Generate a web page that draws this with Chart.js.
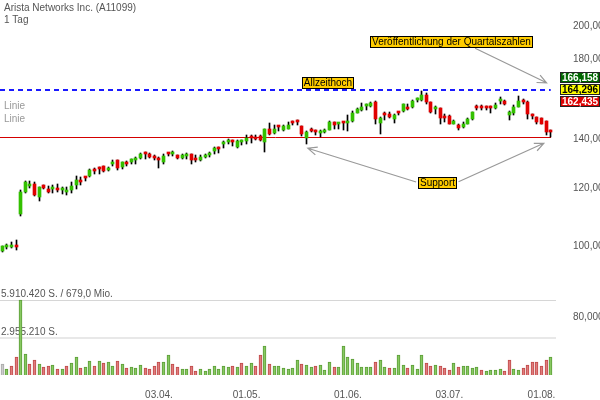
<!DOCTYPE html>
<html>
<head>
<meta charset="utf-8">
<script src="https://cdn.jsdelivr.net/npm/chart.js@4.4.1/dist/chart.umd.min.js"></script>
<style>
  html, body { margin: 0; padding: 0; background: #fff; }
  #wrap { width: 600px; height: 400px; }
</style>
</head>
<body>
<div id="wrap"><canvas id="chart"></canvas></div>
<script>
// Arista Networks Inc. (A11099) - 1 Tag, Kerzen + Volumen

const FONT = 'Arial, "Liberation Sans", sans-serif';

// OHLC, one entry per trading day (EUR)
const opens = [
  98.70, 99.73, 99.86, 100.58, 110.81, 118.80, 120.94, 121.70, 116.96, 121.32,
  119.81, 119.81, 120.19, 119.54, 118.80, 119.43, 121.32, 122.84, 124.27, 124.78,
  127.13, 128.06, 128.74, 127.13, 129.67, 131.16, 128.22, 129.95, 130.48, 131.29,
  132.12, 133.79, 133.79, 132.83, 131.58, 130.48, 133.79, 133.54, 133.12, 132.12,
  132.96, 133.66, 131.58, 131.16, 132.54, 133.25, 134.91, 136.31, 137.90, 138.89,
  139.19, 136.74, 139.06, 139.32, 141.39, 141.08, 141.39, 138.89, 144.51, 143.03,
  145.69, 144.37, 144.83, 147.70, 147.98, 145.87, 140.82, 144.83, 143.39, 143.07,
  143.30, 144.37, 147.85, 146.97, 147.70, 147.57, 148.31, 152.26, 153.34, 155.66,
  155.41, 157.72, 147.24, 151.42, 151.70, 149.43, 152.17, 152.86, 154.95, 154.95,
  158.40, 158.55, 161.23, 157.38, 154.17, 154.46, 149.85, 150.67, 147.11, 146.33,
  145.56, 147.11, 149.10, 154.74, 154.65, 154.79, 154.89, 154.65, 158.11, 158.21,
  150.99, 152.26, 154.95, 158.55, 157.38, 150.76, 150.18, 149.90, 148.31, 143.48
];
const highs = [
  100.27, 100.89, 101.30, 102.15, 119.43, 122.84, 122.84, 122.58, 120.68, 121.32,
  120.94, 121.32, 121.70, 120.68, 120.68, 122.46, 124.78, 124.51, 124.51, 127.53,
  127.81, 128.47, 128.74, 128.47, 131.16, 131.16, 130.35, 130.76, 131.58, 132.54,
  134.20, 134.62, 134.20, 133.12, 132.54, 133.54, 134.20, 135.04, 133.37, 133.66,
  133.96, 133.66, 133.12, 133.20, 133.54, 134.62, 136.74, 136.74, 139.32, 140.06,
  139.62, 139.62, 139.62, 141.83, 141.83, 141.83, 141.83, 144.51, 147.39, 146.33,
  146.00, 146.60, 147.70, 148.16, 148.63, 145.87, 143.74, 145.28, 144.05, 144.05,
  144.51, 148.16, 147.85, 147.57, 147.85, 150.99, 152.86, 154.50, 156.90, 156.62,
  157.24, 158.21, 150.18, 152.55, 152.40, 151.70, 152.55, 156.62, 156.62, 158.45,
  159.55, 162.88, 161.88, 157.38, 155.30, 154.46, 151.70, 150.99, 148.63, 147.11,
  147.70, 149.57, 152.55, 155.80, 155.80, 155.30, 155.30, 156.77, 159.90, 158.55,
  152.86, 155.80, 160.40, 158.85, 158.21, 151.70, 150.18, 149.90, 148.31, 144.37
];
const lows = [
  98.17, 99.23, 99.54, 99.01, 109.88, 118.22, 120.30, 117.22, 115.50, 119.70,
  118.44, 118.44, 118.80, 118.07, 117.59, 118.44, 119.81, 121.32, 122.84, 124.51,
  125.61, 125.61, 126.23, 126.74, 128.74, 127.13, 127.53, 128.82, 129.55, 129.55,
  131.58, 131.58, 132.00, 131.29, 128.06, 129.67, 132.96, 132.83, 131.58, 131.45,
  131.45, 129.55, 130.35, 130.76, 131.87, 132.54, 133.54, 133.96, 136.31, 138.03,
  137.17, 136.31, 137.77, 138.20, 138.46, 139.62, 139.50, 134.62, 142.00, 142.27,
  143.60, 143.74, 144.50, 146.33, 146.33, 141.52, 138.20, 143.30, 141.83, 141.08,
  142.85, 144.05, 144.51, 144.83, 144.05, 143.60, 147.85, 152.00, 153.20, 153.34,
  155.20, 146.79, 142.58, 148.63, 149.57, 147.39, 150.99, 152.55, 153.34, 154.60,
  157.38, 158.21, 156.62, 152.07, 151.70, 147.11, 147.85, 146.79, 146.79, 144.05,
  145.10, 146.79, 148.63, 153.34, 153.34, 153.67, 152.07, 154.17, 156.62, 155.80,
  148.63, 150.99, 154.80, 156.62, 149.10, 149.43, 146.79, 146.79, 141.83, 141.08
];
const closes = [
  100.05, 100.58, 100.42, 99.95, 118.80, 122.58, 121.70, 117.59, 120.68, 120.30,
  118.80, 120.68, 119.43, 119.81, 119.06, 120.94, 123.22, 122.58, 124.00, 127.13,
  126.86, 127.53, 126.74, 128.06, 129.95, 128.06, 130.35, 129.67, 131.45, 132.12,
  133.79, 133.54, 132.54, 132.12, 131.29, 132.83, 133.54, 134.37, 132.12, 133.12,
  133.37, 131.16, 131.29, 132.54, 132.96, 133.96, 136.31, 135.76, 138.89, 139.11,
  138.98, 139.40, 139.19, 140.64, 140.51, 140.06, 139.93, 144.51, 142.27, 144.83,
  145.51, 146.00, 146.65, 147.47, 147.80, 142.58, 143.30, 143.61, 143.21, 143.30,
  144.37, 147.85, 146.33, 147.16, 147.57, 148.31, 152.26, 154.17, 154.95, 155.80,
  156.90, 149.10, 149.57, 151.23, 150.18, 151.32, 151.98, 156.29, 154.17, 158.21,
  158.60, 161.23, 157.38, 152.55, 154.95, 149.90, 149.66, 147.11, 148.16, 145.10,
  147.11, 149.10, 152.55, 154.60, 154.46, 154.65, 154.74, 155.80, 158.31, 156.62,
  152.55, 154.95, 158.21, 157.38, 151.70, 150.57, 147.85, 147.11, 143.30, 143.39
];

// volume in thousand shares
const volumes = [
  843, 496, 709, 1442, 5910.42, 1655, 867, 1158, 890, 630,
  686, 788, 473, 496, 733, 922, 1418, 552, 607, 1127,
  733, 1103, 922, 1024, 709, 1103, 867, 552, 607, 528,
  788, 528, 449, 733, 1048, 1001, 1552, 890, 607, 449,
  473, 733, 339, 473, 339, 473, 686, 473, 686, 630,
  686, 630, 922, 686, 922, 686, 1552, 2262, 890, 686,
  686, 552, 473, 575, 1182, 890, 788, 630, 709, 812,
  394, 1001, 630, 654, 2262, 1395, 1284, 922, 607, 607,
  607, 1024, 1182, 607, 552, 552, 1552, 812, 575, 788,
  496, 1552, 922, 733, 764, 733, 552, 370, 922, 630,
  709, 686, 552, 630, 394, 315, 394, 418, 449, 339,
  1182, 496, 394, 528, 764, 1001, 1001, 686, 1182, 1418
];
// u = up, d = down, n = unchanged (colour of the volume bars)
const volDir = (
  'nudduuddud' + 'dududuuduu' + 'duduududuu' + 'udddduuddu' + 'udduuuuuuu' +
  'duduuddudu' + 'uuuuuduudu' + 'uuduuuuuuu' + 'uduuduuudu' + 'uuddudddud' +
  'uuuuduuuud' + 'duuddddddu'
).split('');

const days = opens.map((_, i) => i);
const xTickIdx = [34, 53, 75, 97, 117];
const xTickText = ['03.04.', '01.05.', '01.06.', '03.07.', '01.08.'];
const yTicks = [80, 100, 120, 140, 180, 200];

const volMax = 5910.42;
const volTopLabel = '5.910.420 S. / 679,0 Mio.';
const volMidLabel = '2.955.210 S.';

const athValue = 164.296;
const supportValue = 141.0;
const priceTags = [
  { text: '166,158', bg: '#006600', fg: '#ffffff', slot: -1 },
  { text: '164,296', bg: '#ffff00', fg: '#000000', slot: 0 },
  { text: '162,435', bg: '#dd0000', fg: '#ffffff', slot: 1 }
];

const UP = '#33c000', DOWN = '#e00000';

function fmtPrice(v) {
  return v.toFixed(3).replace('.', ',');
}

function arrow(ctx, x1, y1, x2, y2) {
  const a = Math.atan2(y2 - y1, x2 - x1);
  const len = 10, spread = 0.42;
  ctx.beginPath();
  ctx.moveTo(x1, y1);
  ctx.lineTo(x2, y2);
  ctx.moveTo(x2 - len * Math.cos(a - spread), y2 - len * Math.sin(a - spread));
  ctx.lineTo(x2, y2);
  ctx.lineTo(x2 - len * Math.cos(a + spread), y2 - len * Math.sin(a + spread));
  ctx.stroke();
}

function labelBox(ctx, text, cx, cy) {
  const w = Math.round(ctx.measureText(text).width + 4);
  const h = 12;
  const left = Math.round(cx - w / 2), top = Math.round(cy - h / 2);
  ctx.fillStyle = '#ffcc00';
  ctx.fillRect(left, top, w, h);
  ctx.strokeStyle = '#000';
  ctx.lineWidth = 1;
  ctx.strokeRect(left + 0.5, top + 0.5, w - 1, h - 1);
  ctx.fillStyle = '#000';
  ctx.textAlign = 'center';
  ctx.textBaseline = 'middle';
  ctx.fillText(text, left + w / 2, top + h / 2 + 0.5);
}

// snap the candle and volume bars to whole pixels so they stay crisp
const pixelSnap = {
  id: 'pixelSnap',
  afterDatasetsUpdate(chart) {
    chart.getSortedVisibleDatasetMetas().forEach(meta => {
      meta.data.forEach(el => {
        el.x = Math.floor(el.x) + 0.5;
        const yy = Math.round(el.y), bb = Math.round(el.base);
        el.y = yy === bb ? bb - 1 : yy;
        el.base = bb;
      });
    });
  }
};

const overlay = {
  id: 'overlay',
  beforeDatasetsDraw(chart) {
    const { ctx, chartArea: a, scales: { x, y, yv } } = chart;
    ctx.save();
    ctx.font = '10px ' + FONT;

    // volume reference lines
    const vTop = Math.round(yv.getPixelForValue(volMax)) + 0.5;
    const vMid = Math.round(yv.getPixelForValue(volMax / 2));
    ctx.strokeStyle = '#d6d6d6';
    ctx.lineWidth = 1;
    ctx.beginPath(); ctx.moveTo(a.left, vTop); ctx.lineTo(a.right + 3, vTop); ctx.stroke();
    ctx.strokeStyle = '#e8e8e8';
    ctx.lineWidth = 2;
    ctx.beginPath(); ctx.moveTo(a.left, vMid); ctx.lineTo(a.right + 3, vMid); ctx.stroke();
    ctx.fillStyle = '#555';
    ctx.textAlign = 'left';
    ctx.textBaseline = 'bottom';
    ctx.fillText(volTopLabel, 1, vTop - 1);
    ctx.fillText(volMidLabel, 1, vMid - 1);

    // support line
    const ySup = Math.round(y.getPixelForValue(supportValue)) + 0.5;
    ctx.strokeStyle = '#d40000';
    ctx.lineWidth = 1;
    ctx.beginPath(); ctx.moveTo(a.left, ySup); ctx.lineTo(a.right - 2, ySup); ctx.stroke();

    // all-time-high line
    const yAth = Math.round(y.getPixelForValue(athValue)) + 1;
    ctx.strokeStyle = '#1a1aff';
    ctx.lineWidth = 2;
    ctx.setLineDash([5, 4]);
    ctx.beginPath(); ctx.moveTo(a.left, yAth); ctx.lineTo(x.getPixelForValue(days.length - 1), yAth); ctx.stroke();
    ctx.restore();
  },
  afterDraw(chart) {
    const { ctx, chartArea: a, scales: { x, y } } = chart;
    ctx.save();
    ctx.font = '10px ' + FONT;
    ctx.textAlign = 'left';
    ctx.textBaseline = 'middle';

    ctx.fillStyle = '#555';
    ctx.fillText('Arista Networks Inc. (A11099)', 4, 8);
    ctx.fillText('1 Tag', 4, 20);
    ctx.fillStyle = '#999';
    ctx.fillText('Linie', 4, 106);
    ctx.fillText('Linie', 4, 119);

    // arrows
    ctx.strokeStyle = '#999';
    ctx.lineWidth = 1.2;
    arrow(ctx, x.getPixelForValue(102.6), y.getPixelForValue(186.45), x.getPixelForValue(118.1), y.getPixelForValue(167.3));
    arrow(ctx, x.getPixelForValue(89.8), y.getPixelForValue(122.46), x.getPixelForValue(66.3), y.getPixelForValue(136.16));
    arrow(ctx, x.getPixelForValue(99.0), y.getPixelForValue(122.58), x.getPixelForValue(117.5), y.getPixelForValue(138.3));

    // annotation boxes
    const yAth = Math.round(y.getPixelForValue(athValue)) + 1;
    labelBox(ctx, 'Allzeithoch', x.getPixelForValue(70.6), yAth - 7);
    labelBox(ctx, 'Veröffentlichung der Quartalszahlen', x.getPixelForValue(97.5), y.getPixelForValue(189.9));
    labelBox(ctx, 'Support', x.getPixelForValue(94.4), y.getPixelForValue(121.97));

    // price tags at the right axis
    ctx.font = 'bold 10px ' + FONT;
    priceTags.forEach(t => {
      const top = Math.round(yAth + t.slot * 12) - 6;
      ctx.fillStyle = t.bg;
      ctx.fillRect(a.right + 7, top, 40, 11);
      ctx.strokeStyle = '#222';
      ctx.lineWidth = 1;
      ctx.strokeRect(a.right + 7.5, top + 0.5, 39, 10);
      ctx.fillStyle = t.fg;
      ctx.textAlign = 'left';
      ctx.fillText(t.text, a.right + 9, top + 6);
    });
    ctx.restore();
  }
};

new Chart(document.getElementById('chart'), {
  type: 'bar',
  data: {
    labels: days,
    datasets: [
      {
        label: 'Körper',
        data: opens.map((o, i) => [o, closes[i]]),
        backgroundColor: opens.map((o, i) => closes[i] >= o ? UP : DOWN),
        borderWidth: 0,
        barThickness: 3,
        minBarLength: 2,
        grouped: false,
        order: 1,
        yAxisID: 'y'
      },
      {
        label: 'Docht',
        data: lows.map((l, i) => [l, highs[i]]),
        backgroundColor: '#000',
        borderWidth: 0,
        barThickness: 1,
        grouped: false,
        order: 2,
        yAxisID: 'y'
      },
      {
        label: 'Volumen',
        data: volumes,
        backgroundColor: volDir.map(d => d === 'u' ? '#88c862' : d === 'd' ? '#e07c7c' : '#cccccc'),
        borderColor: volDir.map(d => d === 'u' ? '#5c9e38' : d === 'd' ? '#bf4a4a' : '#a8a8a8'),
        borderWidth: 1,
        barThickness: 3,
        grouped: false,
        order: 3,
        yAxisID: 'yv'
      }
    ]
  },
  options: {
    responsive: true,
    maintainAspectRatio: false,
    animation: false,
    layout: { padding: 0 },
    plugins: { legend: { display: false }, tooltip: { enabled: false } },
    scales: {
      x: {
        type: 'category',
        offset: true,
        grid: { display: false },
        border: { display: false },
        ticks: {
          autoSkip: false, maxRotation: 0, minRotation: 0, padding: 6,
          color: '#555', font: { size: 10, family: FONT },
          callback: v => { const k = xTickIdx.indexOf(v); return k < 0 ? '' : xTickText[k]; }
        },
        afterBuildTicks: s => { s.ticks = xTickIdx.map(v => ({ value: v })); },
        afterFit: s => { s.height = 25; s.paddingLeft = 0; s.paddingRight = 0; }
      },
      y: {
        type: 'logarithmic',
        position: 'right',
        min: 66.74,
        max: 217.04,
        grid: { display: false },
        border: { display: false },
        ticks: { padding: 12, color: '#555', font: { size: 10, family: FONT }, callback: v => fmtPrice(v) },
        afterBuildTicks: s => { s.ticks = yTicks.map(v => ({ value: v })); },
        afterFit: s => { s.width = 47; s.paddingTop = 0; s.paddingBottom = 0; }
      },
      yv: { type: 'linear', display: false, min: 0, max: volMax * 5 }
    }
  },
  plugins: [pixelSnap, overlay]
});
</script>
</body>
</html>
